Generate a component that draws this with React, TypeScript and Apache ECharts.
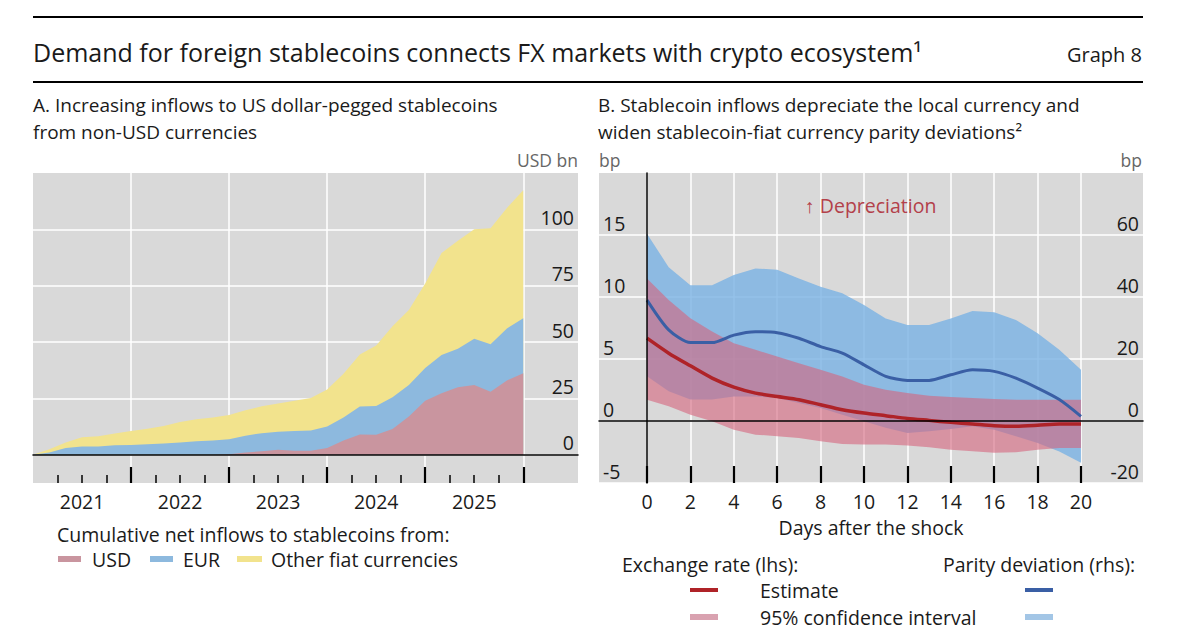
import React, { useEffect, useRef } from "react";
import * as echarts from "echarts";

const FONT = "'Open Sans', 'Noto Sans', sans-serif";
const INK = "#1a1a1a";
const PANEL_BG = "#d9d9d9";

// ---------- Panel A: cumulative net inflows (USD bn), months since Jan 2021 ----------
const monthsA = [0, 2, 4, 6, 8, 10, 12, 14, 16, 18, 20, 22, 24, 26, 28, 30, 32, 34, 36, 38, 40, 42, 44, 46, 48, 50, 52, 54, 56, 58, 60];
const usdInflows = [0, 0, 0, 0, 0, 0, 0, 0, 0, 0, 0, 0, 0.2, 1.0, 1.6, 2.2, 1.8, 1.8, 3.0, 6.3, 9.0, 8.9, 11.5, 17.0, 24.0, 27.3, 30.0, 31.0, 28.0, 33.0, 36.2];
const eurInflows = [0, 1.0, 3.0, 3.7, 3.7, 4.2, 4.4, 4.7, 5.0, 5.5, 6.0, 6.4, 6.7, 7.5, 8.0, 8.0, 8.8, 9.0, 9.6, 10.2, 12.4, 12.7, 14.0, 14.0, 14.5, 17.0, 17.0, 20.5, 21.0, 23.0, 24.4];
const otherInflows = [0, 1.5, 2.5, 4.1, 4.5, 5.3, 6.2, 6.9, 7.8, 9.1, 9.8, 10.2, 10.8, 11.3, 11.9, 12.6, 13.4, 14.4, 16.4, 19.5, 23.1, 26.9, 31.5, 33.2, 37.5, 45.2, 48.0, 48.5, 51.5, 53.5, 56.8];
const yearLabels = ["2021", "2022", "2023", "2024", "2025"];
const yearLabelPos = [6, 18, 30, 42, 54];
const yearBoundaries = [12, 24, 36, 48, 60];
const quarterTicks = [3, 6, 9, 15, 18, 21, 27, 30, 33, 39, 42, 45, 51, 54, 57];
const valueTicksA = [0, 25, 50, 75, 100];

// ---------- Panel B: responses over days after the shock ----------
const days = [0, 1, 2, 3, 4, 5, 6, 7, 8, 9, 10, 11, 12, 13, 14, 15, 16, 17, 18, 19, 20];
const erEstimate = [6.68, 5.47, 4.45, 3.46, 2.73, 2.25, 1.98, 1.72, 1.31, 0.91, 0.64, 0.43, 0.21, 0.05, -0.11, -0.24, -0.38, -0.43, -0.35, -0.24, -0.24];
const erUpper = [11.5, 9.76, 8.28, 7.21, 6.27, 5.74, 5.2, 4.66, 4.13, 3.59, 2.92, 2.52, 2.25, 2.04, 1.93, 1.85, 1.77, 1.72, 1.72, 1.72, 1.72];
const erLower = [1.72, 1.18, 0.51, -0.03, -0.7, -1.1, -1.23, -1.37, -1.64, -1.85, -1.9, -1.9, -1.98, -2.12, -2.31, -2.44, -2.57, -2.52, -2.31, -2.17, -2.17];
const pdEstimate = [39.0, 29.4, 25.3, 25.3, 27.7, 28.8, 28.5, 26.7, 24.0, 21.9, 18.1, 14.4, 13.1, 13.1, 14.9, 16.5, 16.0, 13.8, 10.6, 6.9, 1.5];
const pdUpper = [60.4, 49.6, 43.8, 43.8, 47.1, 49.2, 48.8, 46.0, 43.3, 41.2, 37.4, 33.1, 31.0, 31.0, 33.1, 35.5, 35.1, 32.6, 28.3, 23.0, 16.5];
const pdLower = [14.4, 9.6, 6.9, 6.9, 7.9, 7.9, 7.4, 5.8, 4.2, 2.0, -0.1, -2.2, -3.9, -3.3, -2.6, -1.7, -2.8, -4.9, -7.1, -9.8, -13.5];
const dayTicks = [0, 2, 4, 6, 8, 10, 12, 14, 16, 18, 20];
const lhsTicks = [-5, 0, 5, 10, 15];
const rhsTicks = [-20, 0, 20, 40, 60];

const COLORS = {
  usd: "#c9959f",
  eur: "#8db9de",
  other: "#f2e38d",
  erLine: "#af2328",
  erBand: "rgba(214,100,125,0.6)",
  erBandKey: "#d9a2b0",
  pdLine: "#3a5fa5",
  pdBand: "rgba(121,177,227,0.8)",
  pdBandKey: "#a3c6e6",
};

const pairs = (xs: number[], ys: number[]) => xs.map((x, i) => [x, ys[i]]);
const addArr = (...arrs: number[][]) => arrs[0].map((_, i) => +arrs.reduce((s, a) => s + a[i], 0).toFixed(3));

function txt(text: string, x: number, y: number, opts: any = {}) {
  const align = opts.align || "left";
  const va = opts.va || "middle";
  return {
    type: "text",
    x,
    y,
    z: 20,
    silent: true,
    style: {
      text,
      fill: opts.color || INK,
      fontSize: opts.size || 19.5,
      fontFamily: FONT,
      align,
      textAlign: align,
      verticalAlign: va,
      textVerticalAlign: va,
    },
  };
}

function rect(x: number, y: number, w: number, h: number, fill: string) {
  return { type: "rect", silent: true, shape: { x, y, width: w, height: h }, style: { fill } };
}

function hline(x1: number, x2: number, y: number, w: number) {
  return { type: "line", silent: true, shape: { x1, y1: y, x2, y2: y }, style: { stroke: "#000", lineWidth: w } };
}

function bandSeries(name: string, xAxisIndex: number, yAxisIndex: number, lower: number[], upper: number[], fill: string) {
  return {
    name,
    type: "custom",
    xAxisIndex,
    yAxisIndex,
    silent: true,
    data: days.map((d, i) => [d, lower[i], upper[i]]),
    encode: { x: 0, y: [1, 2] },
    renderItem: (params: any, api: any) => {
      if (params.dataIndex !== 0) return null;
      const top = days.map((d, i) => api.coord([d, upper[i]]));
      const bottom = days.map((d, i) => api.coord([d, lower[i]])).reverse();
      return {
        type: "polygon",
        shape: { points: top.concat(bottom) },
        style: { fill, stroke: "none" },
      };
    },
  };
}

const tickLabelStyle = { fontSize: 19.5, fontFamily: FONT, color: INK };
const whiteSplit = { show: true, lineStyle: { color: "#ffffff", width: 1.5 } };
const noLine = { show: false, onZero: false };

export default function App() {
  const ref = useRef<HTMLDivElement>(null);

  useEffect(() => {
    document.body.style.margin = "0";
    if (!ref.current) return;
    const chart = echarts.init(ref.current, undefined, { renderer: "svg" });

    const A_MIN = 0;
    const A_MAX = 66.7;
    const B_MIN = -2.212;
    const B_MAX = 22.857;

    const usdTop = usdInflows;
    const eurTop = addArr(usdInflows, eurInflows);
    const totalTop = addArr(usdInflows, eurInflows, otherInflows);

    const option: any = {
      animation: false,
      textStyle: { fontFamily: FONT },
      grid: [
        { left: 33, top: 173, width: 545, height: 310, show: true, backgroundColor: PANEL_BG, borderWidth: 0 },
        { left: 599, top: 173, width: 544, height: 310, show: true, backgroundColor: PANEL_BG, borderWidth: 0 },
      ],
      xAxis: [
        // 0: panel A, year gridlines + major ticks
        {
          type: "value", gridIndex: 0, min: A_MIN, max: A_MAX, position: "bottom",
          axisLine: noLine,
          axisTick: { show: true, inside: true, length: 16, customValues: yearBoundaries, lineStyle: { color: "#000", width: 2.2 } },
          axisLabel: { show: false },
          splitLine: whiteSplit,
        },
        // 1: panel A, quarterly ticks + year labels
        {
          type: "value", gridIndex: 0, min: A_MIN, max: A_MAX, position: "bottom",
          axisLine: noLine,
          axisTick: { show: true, inside: true, length: 8, customValues: quarterTicks, lineStyle: { color: "#000", width: 1.5 } },
          axisLabel: {
            show: true, customValues: yearLabelPos, margin: 8, ...tickLabelStyle,
            formatter: (v: number) => yearLabels[yearLabelPos.indexOf(v)] ?? "",
          },
          splitLine: { show: false },
        },
        // 2: panel A, zero line
        {
          type: "value", gridIndex: 0, min: A_MIN, max: A_MAX, position: "bottom", z: 10,
          axisLine: { show: true, onZero: true, lineStyle: { color: "#000", width: 1.5 } },
          axisTick: { show: false }, axisLabel: { show: false }, splitLine: { show: false },
        },
        // 3: panel B, days
        {
          type: "value", gridIndex: 1, min: B_MIN, max: B_MAX, position: "bottom",
          axisLine: noLine,
          axisTick: { show: true, inside: true, length: 17, customValues: dayTicks, lineStyle: { color: "#000", width: 2.2 } },
          axisLabel: { show: true, customValues: dayTicks, margin: 8, ...tickLabelStyle },
          splitLine: whiteSplit,
          name: "Days after the shock", nameLocation: "middle", nameGap: 34,
          nameTextStyle: { fontSize: 19.5, fontFamily: FONT, color: INK },
        },
        // 4: panel B, zero line
        {
          type: "value", gridIndex: 1, min: B_MIN, max: B_MAX, position: "bottom", z: 10,
          axisLine: { show: true, onZero: true, lineStyle: { color: "#000", width: 1.5 } },
          axisTick: { show: false }, axisLabel: { show: false }, splitLine: { show: false },
        },
      ],
      yAxis: [
        // 0: panel A, USD bn (right)
        {
          type: "value", gridIndex: 0, position: "right", min: -12.5, max: 125,
          axisLine: noLine,
          axisTick: { show: false, customValues: valueTicksA },
          axisLabel: { show: true, inside: true, customValues: valueTicksA, verticalAlign: "bottom", margin: 4, padding: [0, 0, 2, 0], ...tickLabelStyle },
          splitLine: whiteSplit,
        },
        // 1: panel B, lhs bp
        {
          type: "value", gridIndex: 1, position: "left", min: -5, max: 20,
          axisLine: noLine,
          axisTick: { show: false, customValues: lhsTicks },
          axisLabel: { show: true, inside: true, customValues: lhsTicks, verticalAlign: "bottom", margin: 4, padding: [0, 0, 2, 0], ...tickLabelStyle },
          splitLine: whiteSplit,
        },
        // 2: panel B, rhs bp
        {
          type: "value", gridIndex: 1, position: "right", min: -20, max: 80,
          axisLine: noLine,
          axisTick: { show: false, customValues: rhsTicks },
          axisLabel: { show: true, inside: true, customValues: rhsTicks, verticalAlign: "bottom", margin: 4, padding: [0, 0, 2, 0], ...tickLabelStyle },
          splitLine: { show: false },
        },
        // 3: panel B, day-0 vertical line
        {
          type: "value", gridIndex: 1, position: "left", min: -5, max: 20, z: 10,
          axisLine: { show: true, onZero: true, lineStyle: { color: "#000", width: 1.5 } },
          axisTick: { show: false }, axisLabel: { show: false }, splitLine: { show: false },
        },
      ],
      series: [
        // Panel A: cumulative layers drawn back to front
        {
          name: "Other fiat currencies", type: "line", xAxisIndex: 0, yAxisIndex: 0, symbol: "none",
          data: pairs(monthsA, totalTop),
          lineStyle: { width: 0, opacity: 0 }, areaStyle: { color: COLORS.other, opacity: 1 },
        },
        {
          name: "EUR", type: "line", xAxisIndex: 0, yAxisIndex: 0, symbol: "none",
          data: pairs(monthsA, eurTop),
          lineStyle: { width: 0, opacity: 0 }, areaStyle: { color: COLORS.eur, opacity: 1 },
        },
        {
          name: "USD", type: "line", xAxisIndex: 0, yAxisIndex: 0, symbol: "none",
          data: pairs(monthsA, usdTop),
          lineStyle: { width: 0, opacity: 0 }, areaStyle: { color: COLORS.usd, opacity: 1 },
        },
        // Panel B
        bandSeries("Parity deviation 95% CI", 3, 2, pdLower, pdUpper, COLORS.pdBand),
        {
          name: "Parity deviation", type: "line", xAxisIndex: 3, yAxisIndex: 2, symbol: "none", smooth: 0.25,
          data: pairs(days, pdEstimate), lineStyle: { color: COLORS.pdLine, width: 3 },
        },
        bandSeries("Exchange rate 95% CI", 3, 1, erLower, erUpper, COLORS.erBand),
        {
          name: "Exchange rate", type: "line", xAxisIndex: 3, yAxisIndex: 1, symbol: "none", smooth: 0.25,
          data: pairs(days, erEstimate), lineStyle: { color: COLORS.erLine, width: 3.5 },
        },
      ],
      graphic: [
        hline(33, 1143, 17, 2),
        txt("Demand for foreign stablecoins connects FX markets with crypto ecosystem\u00B9", 33, 52, { size: 25 }),
        txt("Graph 8", 1142, 54, { size: 20, align: "right" }),
        hline(33, 1143, 82, 2),
        txt("A. Increasing inflows to US dollar-pegged stablecoins", 33, 105, { size: 19 }),
        txt("from non-USD currencies", 33, 131.5, { size: 19 }),
        txt("B. Stablecoin inflows depreciate the local currency and", 598, 105, { size: 19 }),
        txt("widen stablecoin-fiat currency parity deviations\u00B2", 598, 131.5, { size: 19 }),
        txt("USD bn", 578, 160, { size: 17.5, align: "right", color: "#666666" }),
        txt("bp", 599, 160, { size: 17.5, color: "#666666" }),
        txt("bp", 1142, 160, { size: 17.5, align: "right", color: "#666666" }),
        txt("\u2191 Depreciation", 805, 205, { size: 19.5, color: "#b3404a" }),
        // Legend A
        txt("Cumulative net inflows to stablecoins from:", 57, 534, { size: 19.5 }),
        rect(58, 556, 23, 6, COLORS.usd),
        txt("USD", 92, 559, { size: 19.5 }),
        rect(150, 556, 23, 6, COLORS.eur),
        txt("EUR", 183, 559, { size: 19.5 }),
        rect(237, 556, 25, 6, COLORS.other),
        txt("Other fiat currencies", 271, 559, { size: 19.5 }),
        // Legend B
        txt("Exchange rate (lhs):", 622, 564, { size: 19.5 }),
        txt("Parity deviation (rhs):", 943, 564, { size: 19.5 }),
        rect(690, 588, 28, 4, COLORS.erLine),
        txt("Estimate", 760, 590, { size: 19.5 }),
        rect(690, 614, 28, 6, COLORS.erBandKey),
        txt("95% confidence interval", 760, 617, { size: 19.5 }),
        rect(1025, 588, 28, 4, COLORS.pdLine),
        rect(1025, 614, 28, 6, COLORS.pdBandKey),
      ],
    };

    chart.setOption(option);
    return () => chart.dispose();
  }, []);

  return <div ref={ref} style={{ width: 1183, height: 634, background: "#fff" }} />;
}
